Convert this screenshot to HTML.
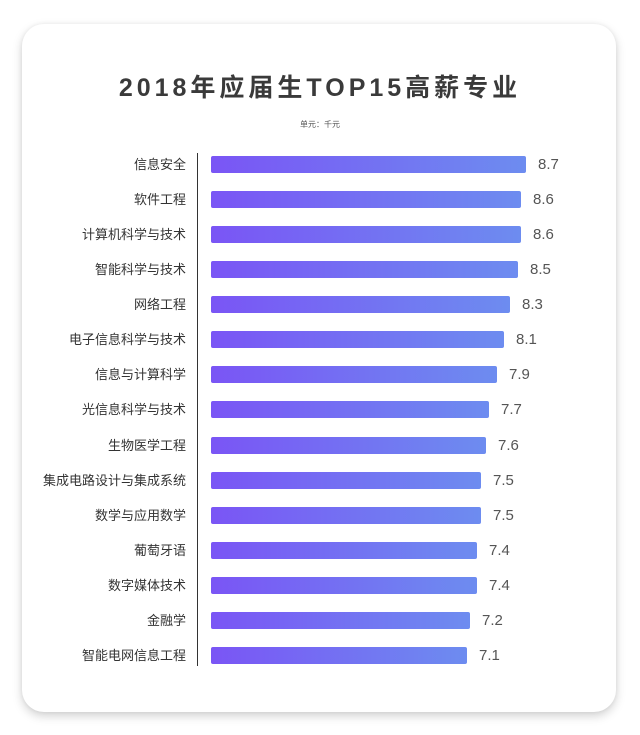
<!DOCTYPE html>
<html><head><meta charset="utf-8"><style>
body{margin:0;width:640px;height:735px;background:#fff;position:relative;overflow:hidden;font-family:"Liberation Sans","Noto Sans CJK SC",sans-serif;}
.card{position:absolute;left:22px;top:24px;width:594px;height:688px;background:#fff;border-radius:22px;box-shadow:0 4px 10px rgba(0,0,0,0.18),0 0 4px rgba(0,0,0,0.06);}
.title{position:absolute;left:0;width:640px;top:68px;text-align:center;font-size:25px;font-weight:bold;color:#3a3a3a;letter-spacing:4px;}
.sub{position:absolute;left:0;width:640px;top:119px;text-align:center;font-size:8px;color:#555;}
.axis{position:absolute;left:197px;top:153px;width:1px;height:513px;background:#333;}
.lab{position:absolute;right:454px;font-size:13px;color:#333;white-space:nowrap;line-height:17px;}
.bar{position:absolute;left:211px;height:17px;border-radius:2px;background:linear-gradient(90deg,#7a55f5,#6d8cf0);}
.val{position:absolute;font-size:15px;color:#555;line-height:17px;}
</style></head><body>
<div class="card"></div>
<div class="title">2018年应届生TOP15高薪专业</div>
<div class="sub">单元：千元</div>
<div class="axis"></div>
<div id="c"></div>
<script>
var d=[["信息安全",8.7,526],["软件工程",8.6,521],["计算机科学与技术",8.6,521],["智能科学与技术",8.5,518],["网络工程",8.3,510],["电子信息科学与技术",8.1,504],["信息与计算科学",7.9,497],["光信息科学与技术",7.7,489],["生物医学工程",7.6,486],["集成电路设计与集成系统",7.5,481],["数学与应用数学",7.5,481],["葡萄牙语",7.4,477],["数字媒体技术",7.4,477],["金融学",7.2,470],["智能电网信息工程",7.1,467]];
var h="";
d.forEach(function(r,i){var y=156+i*35.07;
h+='<div class="lab" style="top:'+y+'px">'+r[0]+'</div>';
h+='<div class="bar" style="top:'+y+'px;width:'+(r[2]-211)+'px"></div>';
h+='<div class="val" style="top:'+y+'px;left:'+(r[2]+12)+'px">'+r[1].toFixed(1)+'</div>';});
document.getElementById("c").innerHTML=h;
</script>
</body></html>
